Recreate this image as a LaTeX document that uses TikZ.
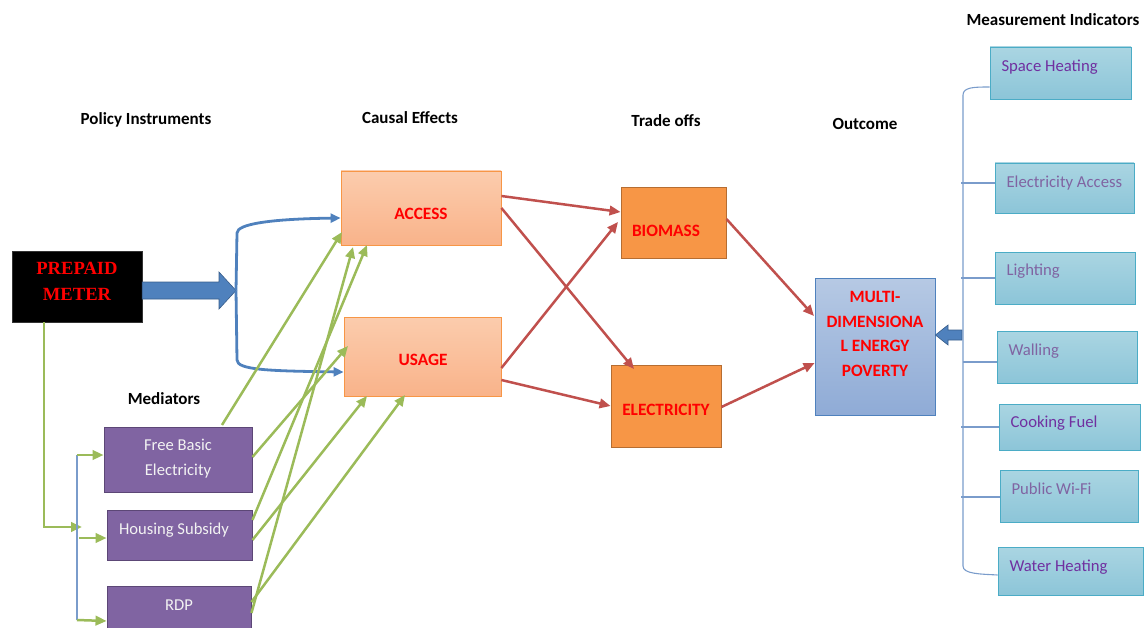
\documentclass[tikz,border=0pt]{standalone}
\usepackage{fontspec}
\setmainfont{Carlito}
\newfontfamily\timesfont{Liberation Serif}
\usetikzlibrary{arrows.meta}
\definecolor{txtred}{HTML}{FF0000}
\definecolor{orangefill}{HTML}{F79646}
\definecolor{orangeline}{HTML}{B66D31}
\definecolor{peachtop}{HTML}{FBCCAD}
\definecolor{peachbot}{HTML}{F9B38A}
\definecolor{purplefill}{HTML}{8064A2}
\definecolor{purpleline}{HTML}{5C4776}
\definecolor{bluetop}{HTML}{B6C9E4}
\definecolor{bluebot}{HTML}{8FABD6}
\definecolor{blueline}{HTML}{4F81BD}
\definecolor{bluedark}{HTML}{385D8A}
\definecolor{tealtop}{HTML}{AAD5E2}
\definecolor{tealbot}{HTML}{8CC5D8}
\definecolor{tealline}{HTML}{4BACC6}
\definecolor{grn}{HTML}{9BBB59}
\definecolor{redline}{HTML}{C0504D}
\definecolor{indA}{HTML}{7030A0}
\definecolor{indB}{HTML}{8064A2}
\definecolor{thinblue}{HTML}{7A9CCB}
\tikzset{
  heading/.style={font=\fontsize{17}{20}\selectfont\bfseries, text=black},
  boxtxt/.style={font=\fontsize{17.3}{24.5}\selectfont\bfseries, text=txtred, align=center},
  medtxt/.style={font=\fontsize{16.6}{25}\selectfont, text=white!95!black, align=center},
  indtxt/.style={font=\fontsize{16.7}{19}\selectfont, anchor=west},
  effectbox/.style={draw=orangefill, line width=0.8pt, top color=peachtop, bottom color=peachbot, inner sep=0pt},
  tradebox/.style={draw=orangeline, line width=0.9pt, fill=orangefill, inner sep=0pt},
  medbox/.style={draw=purpleline, line width=0.9pt, fill=purplefill, inner sep=0pt},
  outbox/.style={draw=blueline, line width=0.8pt, top color=bluetop, bottom color=bluebot, inner sep=0pt},
  indbox/.style={draw=tealline, line width=0.9pt, top color=tealtop, bottom color=tealbot, inner sep=0pt},
  redarrow/.style={draw=redline, line width=2.5pt, -{Triangle[length=11pt,width=9.5pt]}},
  grnarrow/.style={draw=grn, line width=2.5pt, -{Triangle[length=11pt,width=9.5pt]}},
  bluearrow/.style={draw=blueline, line width=2.8pt, -{Triangle[length=10pt,width=9pt]}},
  thinline/.style={draw=thinblue, line width=1.1pt},
}
\begin{document}
\begin{tikzpicture}[x=1pt,y=-1pt]
\useasboundingbox (0,0) rectangle (1147,628);

% column headings
\node[heading] (hPol) at (146,120) {Policy Instruments};
\node[heading] (hCau) at (410,118) {Causal Effects};
\node[heading] (hTra) at (666,121) {Trade offs};
\node[heading] (hOut) at (865,124) {Outcome};
\node[heading] (hMea) at (1053,20) {Measurement Indicators};
\node[heading] (hMed) at (164,399) {Mediators};

% policy instrument
\node[fill=black, draw=black!80, minimum width=130pt, minimum height=71pt, inner sep=0pt]
      (pm) at (77,286.5) {};
\node[font=\timesfont\fontsize{18.6}{26}\selectfont\bfseries, text=txtred, align=center]
      (pmT) at (77,281.5) {PREPAID\\METER};

% causal effects
\node[effectbox, minimum width=160pt, minimum height=74pt] (access) at (421,208) {};
\node[boxtxt] (accessT) at (421,214) {ACCESS};
\node[effectbox, minimum width=157pt, minimum height=79pt] (usage) at (422.5,356.5) {};
\node[boxtxt] (usageT) at (423,360) {USAGE};

% trade offs
\node[tradebox, minimum width=105pt, minimum height=71pt] (bio) at (673.5,222.5) {};
\node[boxtxt] (bioT) at (666,231) {BIOMASS};
\node[tradebox, minimum width=110pt, minimum height=82pt] (ele) at (666,406) {};
\node[boxtxt] (eleT) at (666,410) {ELECTRICITY};

% outcome
\node[outbox, minimum width=120pt, minimum height=137pt] (mdep) at (875,346.5) {};
\node[boxtxt] (mdepT) at (875,334) {MULTI-\\DIMENSIONA\\L ENERGY\\POVERTY};

% mediators
\node[medbox, minimum width=148pt, minimum height=65pt] (fbe) at (178,459.5) {};
\node[medtxt] (fbeT) at (178,458.5) {Free Basic\\Electricity};
\node[medbox, minimum width=145pt, minimum height=50pt] (hs) at (179.5,535) {};
\node[medtxt] (hsT) at (174,530) {Housing Subsidy};
\node[medbox, minimum width=144pt, minimum height=44pt] (rdp) at (179,608) {};
\node[medtxt] (rdpT) at (179,605) {RDP};

% measurement indicators
\node[indbox, minimum width=141pt, minimum height=52pt] (i1) at (1060.5,73) {};
\node[indtxt, text=indA] (i1T) at (998,67) {Space Heating};
\node[indbox, minimum width=139pt, minimum height=50pt] (i2) at (1064.5,188) {};
\node[indtxt, text=indB] (i2T) at (1003,183) {Electricity Access};
\node[indbox, minimum width=140pt, minimum height=52pt] (i3) at (1065,278) {};
\node[indtxt, text=indB] (i3T) at (1003,271) {Lighting};
\node[indbox, minimum width=140pt, minimum height=52pt] (i4) at (1067,357) {};
\node[indtxt, text=indB] (i4T) at (1005,351) {Walling};
\node[indbox, minimum width=141pt, minimum height=46pt] (i5) at (1069.5,427) {};
\node[indtxt, text=indA] (i5T) at (1007,423) {Cooking Fuel};
\node[indbox, minimum width=138pt, minimum height=52pt] (i6) at (1069,496) {};
\node[indtxt, text=indB] (i6T) at (1008,489) {Public Wi-Fi};
\node[indbox, minimum width=145pt, minimum height=48pt] (i7) at (1070.5,571) {};
\node[indtxt, text=indA] (i7T) at (1006,567) {Water Heating};

% block arrow from the prepaid meter to the effects bracket
\coordinate (bTip) at (236,290.5);
\filldraw[fill=blueline, draw=bluedark, line width=0.6pt]
  (pm.east |- 0,282) -- (219,282) -- (219,272) -- (bTip) -- (219,309) -- (219,299) -- (pm.east |- 0,299) -- cycle;

% bracket splitting into access and usage
\coordinate (bTop) at (237,233);
\coordinate (bBot) at (237,360);
\draw[bluearrow] (bTip) -- (bTop) .. controls (237,224) and (270,219) .. (access.west |- 0,218);
\draw[bluearrow] (bTip) -- (bBot) .. controls (237,370) and (270,371) .. (usage.west |- 0,372);

% red causal links
\draw[redarrow] (access.east |- 0,196) -- (bio.west |- 0,212);
\draw[redarrow] (access.east |- 0,208) -- (634,369);
\draw[redarrow] (usage.east |- 0,368) -- (618,222);
\draw[redarrow] (usage.east |- 0,380) -- (ele.west |- 0,406);
\draw[redarrow] (bio.east |- 0,219) -- (814,316);
\draw[redarrow] (ele.east |- 0,407) -- (mdep.west |- 0,363);

% small block arrow into the outcome
\coordinate (sTail) at (962,335);
\filldraw[fill=blueline, draw=bluedark, line width=0.6pt]
  (sTail |- 0,330) -- (948,330) -- (948,325) -- (mdep.east |- 0,335) -- (948,345) -- (948,340) -- (sTail |- 0,340) -- cycle;

% bracket of measurement indicators
\coordinate (mTop) at (963,95);
\coordinate (mBot) at (963,566);
\draw[thinline] (mBot) -- (mTop) .. controls (963,87) and (975,87) .. (i1.west |- 0,87);
\draw[thinline] (mBot) .. controls (963,574) and (980,574) .. (i7.west |- 0,575);
\draw[thinline] (961,183) -- (i2.west |- 0,183);
\draw[thinline] (961,278) -- (i3.west |- 0,278);
\draw[thinline] (963,362) -- (i4.west |- 0,362);
\draw[thinline] (961,427) -- (i5.west |- 0,427);
\draw[thinline] (961,497) -- (i6.west |- 0,497);

% prepaid meter to the mediators
\coordinate (gCorner) at (44,527);
\coordinate (medTop) at (77,455);
\coordinate (medBot) at (77,620);
\draw[grnarrow] (pm.south -| 44,0) -- (gCorner) -- (82,527);
\draw[thinline] (medTop) -- (medBot);
\draw[grnarrow] (medTop) -- (fbe.west |- 0,455);
\draw[grnarrow] (79,538) -- (hs.west |- 0,538);
\draw[grnarrow] (medBot) -- (rdp.west |- 0,621);

% mediators acting on the causal effects
\draw[grnarrow] (222,425) -- (342,232);
\draw[grnarrow] (fbe.east |- 0,457) -- (348,346);
\draw[grnarrow] (hs.east |- 0,520) -- (367,245);
\draw[grnarrow] (hs.east |- 0,540) -- (367,396);
\draw[grnarrow] (rdp.east |- 0,613) -- (353,247);
\draw[grnarrow] (rdp.east |- 0,602) -- (405,395);
\end{tikzpicture}
\end{document}
